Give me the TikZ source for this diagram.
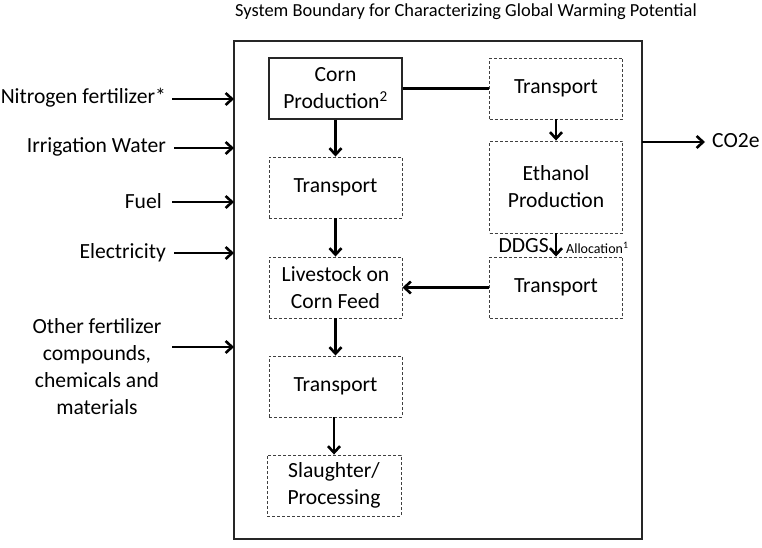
\documentclass[tikz,border=0pt]{standalone}
\usepackage{fontspec}
\setmainfont{Carlito}
\usetikzlibrary{arrows.meta}
\begin{document}
\begin{tikzpicture}[x=1pt,y=-1pt,
  every node/.style={font=\fontsize{21.6}{27}\selectfont, text=black},
  solidbox/.style={draw=black!85, line width=1.3pt, minimum width=133pt, minimum height=61pt, align=center, inner sep=0pt},
  dashbox/.style={draw=black!75, line width=0.9pt, dash pattern=on 3pt off 2pt, minimum width=133pt, minimum height=61pt, align=center, inner sep=0pt},
  flow/.style={line width=2.6pt, -{Straight Barb[length=6.5pt,width=12pt,line width=2.6pt]}},
  plain/.style={line width=2.6pt},
  lbl/.style={anchor=east, inner sep=0pt}]
\useasboundingbox (0,0) rectangle (762,547);
\node[font=\fontsize{18.4}{22}\selectfont] (title) at (466,12) {System Boundary for Characterizing Global Warming Potential};
\node[draw=black!85, line width=1.3pt, minimum width=408pt, minimum height=498pt, inner sep=0pt] (sys) at (438,290) {};
\node[solidbox] (corn) at (335.5,88.5) {Corn\\Production\textsuperscript{2}};
\node[dashbox] (tr1) at (556,88.5) {Transport};
\node[dashbox, minimum height=92pt] (eth) at (556,187) {Ethanol\\Production};
\node[dashbox] (tr2) at (335.5,187.5) {Transport};
\node[dashbox] (live) at (335.5,287.5) {Livestock on\\Corn Feed};
\node[dashbox] (tr3) at (556,287.5) {Transport};
\node[dashbox] (tr4) at (335.5,386.5) {Transport};
\node[dashbox, minimum width=134pt] (sl) at (334,485.5) {Slaughter/\\Processing};
\draw[plain] (corn.east) -- (tr1.west);
\draw[flow] (tr1.south) -- (eth.north);
\draw[flow] (corn.south) -- (tr2.north);
\draw[flow] (tr2.south) -- (live.north);
\draw[flow] (eth.south) -- (tr3.north);
\draw[flow] (tr3.west) -- (live.east);
\draw[flow] (live.south) -- (tr4.north);
\draw[flow] ([xshift=-1.5pt]tr4.south) -- (sl.north);
\node[anchor=east, inner sep=0pt] (ddgs) at (549,246) {DDGS};
\node[anchor=west, inner sep=0pt, font=\fontsize{14}{16}\selectfont] (alloc) at (566,248) {Allocation\textsuperscript{1}};
% inputs
\coordinate (i1) at (234,99);
\coordinate (i2) at (234,148);
\coordinate (i3) at (234,202);
\coordinate (i4) at (234,253);
\coordinate (i5) at (234,347);
\coordinate (s1) at (172,99);
\coordinate (s2) at (174,148);
\coordinate (s3) at (172,202);
\coordinate (s4) at (174,253);
\coordinate (s5) at (172,347);
\draw[flow] (s1) -- (i1);
\draw[flow] (s2) -- (i2);
\draw[flow] (s3) -- (i3);
\draw[flow] (s4) -- (i4);
\draw[flow] (s5) -- (i5);
\node[lbl] (n1) at (166,98) {Nitrogen fertilizer*};
\node[lbl] (n2) at (166,147) {Irrigation Water};
\node[lbl] (n3) at (162,201) {Fuel};
\node[lbl] (n4) at (166,253) {Electricity};
\node[align=center, inner sep=0pt] (n5) at (97,367) {Other fertilizer\\compounds,\\chemicals and\\materials};
\coordinate (o1) at (642,142);
\coordinate (o2) at (705,142);
\draw[flow] (o1) -- (o2);
\node[anchor=west, inner sep=0pt] (co2) at (712,141) {CO2e};
\end{tikzpicture}
\end{document}
